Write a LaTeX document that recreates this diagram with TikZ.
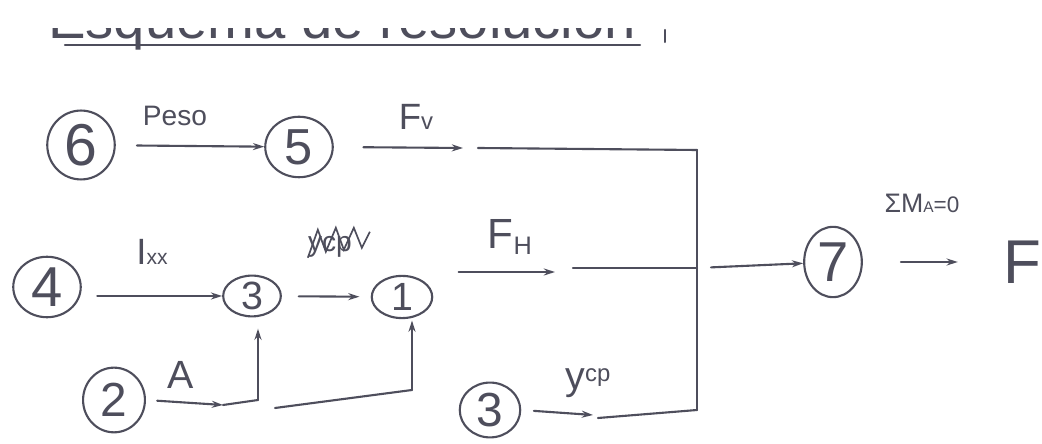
\documentclass[tikz,border=0pt]{standalone}
\usepackage{fontspec}
\setmainfont{Liberation Sans}
\usetikzlibrary{shapes.geometric,arrows.meta}
\definecolor{ink}{RGB}{78,78,92}
\newcommand{\fsz}[1]{\fontsize{#1}{#1}\selectfont}
\begin{document}
\begin{tikzpicture}[x=0.025cm,y=-0.025cm,
  inkline/.style={draw=ink,line width=1.5pt,line cap=round},
  arr/.style={inkline,-{Stealth[length=8pt,width=5pt]}},
  bubble/.style={ellipse,draw=ink,line width=1.5pt,inner sep=0pt,text=ink},
  lbl/.style={text=ink,inner sep=0pt}]
\useasboundingbox[fill=white] (0,0) rectangle (1042,444);
% heading (cut off at the top)
\node[lbl,anchor=base west,font=\fsz{40}] (title) at (48,39) {Esquema de resolución};
\fill[white] (-5,-5) rectangle (1047,28);
\coordinate (ulA) at (65,45);
\coordinate (ulB) at (640,45);
\draw[inkline] (ulA) -- (ulB);
\coordinate (tkA) at (665,30);
\coordinate (tkB) at (665,42);
\draw[inkline] (tkA) -- (tkB);

% nodes
\node[bubble,minimum width=48pt,minimum height=49pt,font=\fsz{42}] (n6) at (81,145) {6};
\node[bubble,minimum width=48pt,minimum height=43pt,font=\fsz{36}] (n5) at (299,147) {5};
\node[bubble,minimum width=48pt,minimum height=43pt,font=\fsz{40}] (n4) at (47,287) {4};
\node[bubble,minimum width=41pt,minimum height=29pt,font=\fsz{28}] (n3) at (252,296) {3};
\node[bubble,minimum width=43pt,minimum height=30pt,font=\fsz{28}] (n1) at (402,297) {1};
\node[bubble,minimum width=44pt,minimum height=46pt,font=\fsz{34}] (n2) at (114,400) {2};
\node[bubble,minimum width=43pt,minimum height=39pt,font=\fsz{34}] (n3b) at (490,410) {3};
\node[bubble,minimum width=41pt,minimum height=50pt,font=\fsz{40}] (n7) at (833,262) {7};
\node[lbl,font=\fsz{44}] (F) at (1022,262) {F};

% junction points
\coordinate (fv) at (463,148);
\coordinate (fvL) at (478,148);
\coordinate (jTop) at (697,150);
\coordinate (fh) at (555,272);
\coordinate (fhL) at (573,268);
\coordinate (jMid) at (697,268);
\coordinate (c2a) at (223,405);
\coordinate (c2b) at (258,400);
\coordinate (c2c) at (275,408);
\coordinate (c2d) at (412,390);
\coordinate (yc) at (593,415);
\coordinate (ycL) at (598,418);
\coordinate (jBot) at (697,410);

% connectors
\draw[arr,shorten <=15pt] (n6) -- (n5);
\draw[arr,shorten <=21pt] (n5.east) -- (fv);
\draw[inkline] (fvL) -- (jTop);
\draw[arr,shorten <=11pt] (n4.east |- n3) -- (n3);
\draw[arr,shorten <=12pt,shorten >=8pt] (n3) -- (n1);
\draw[arr,shorten <=18pt] (n1.east |- fh) -- (fh);
\draw[inkline] (fhL) -- (jMid);
\draw[inkline] (jTop) -- (jBot);
\draw[arr,shorten <=10pt] (jMid) -- (n7);
\draw[arr,shorten <=27pt,shorten >=32pt] (n7) -- (F);
\draw[arr,shorten <=8pt] (n2.east) -- (c2a);
\draw[inkline] (c2a) -- (c2b);
\draw[arr,shorten >=8pt] (c2b) -- (n3.south -| c2b);
\draw[inkline] (c2c) -- (c2d);
\draw[arr,shorten >=1pt] (c2d) -- (n1.south -| c2d);
\draw[arr,shorten <=9pt] (n3b.east) -- (yc);
\draw[inkline] (ycL) -- (jBot);

% labels
\node[lbl,font=\fsz{20}] (lPeso) at (175,116) {Peso};
\node[lbl] (lFv) at (416,117) {\fsz{26}F\fsz{17}v};
\node[lbl] (lIxx) at (152,252) {\fsz{26}I\fsz{15}xx};
\node[lbl] (lScr) at (330,247) {\fsz{20}ycp};
\draw[draw=ink,line width=1.2pt] (lScr.south west) -- ++(10,-28) -- ++(8,22) -- ++(10,-24) -- ++(8,22) -- ++(10,-22) -- ++(8,20) -- ++(8,-16);
\node[lbl] (lFh) at (510,237) {\fsz{30}F\fsz{18}\raisebox{-4pt}{H}};
\node[lbl] (lM) at (922,203) {\fsz{19}ΣM\fsz{11}A\fsz{16}=0};
\node[lbl,font=\fsz{28}] (lA) at (181,375) {A};
\node[lbl] (lYcp) at (588,383) {\fsz{28}y\fsz{17}\raisebox{6pt}{cp}};
\end{tikzpicture}
\end{document}
